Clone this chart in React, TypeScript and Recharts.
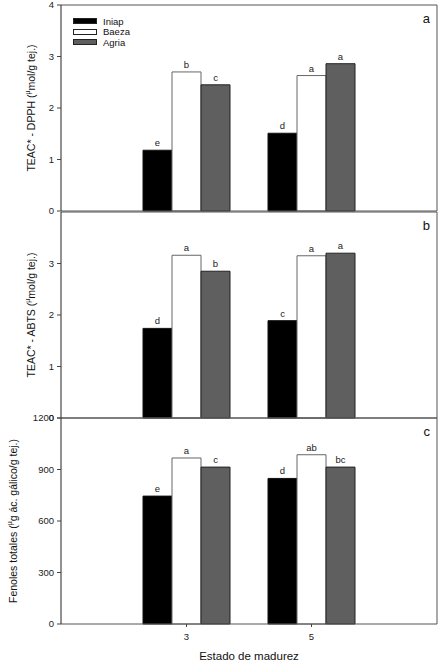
import { Bar, BarChart, LabelList, Legend, XAxis, YAxis } from "recharts";

const stages = ["3", "5"];
const cultivars = ["Iniap", "Baeza", "Agria"];
const cultivarFills = ["#000000", "#ffffff", "#5f5f5f"];
const cultivarStrokes = ["#111111", "#666666", "#222222"];

// panel a: TEAC DPPH
const dpphIniap = [1.18, 1.51];
const dpphBaeza = [2.7, 2.63];
const dpphAgria = [2.45, 2.86];
const dpphLetters = [["e", "d"], ["b", "a"], ["c", "a"]];

// panel b: TEAC ABTS
const abtsIniap = [1.74, 1.89];
const abtsBaeza = [3.16, 3.15];
const abtsAgria = [2.85, 3.2];
const abtsLetters = [["d", "c"], ["a", "a"], ["b", "a"]];

// panel c: fenoles totales
const fenIniap = [745, 848];
const fenBaeza = [967, 986];
const fenAgria = [914, 914];
const fenLetters = [["e", "d"], ["a", "ab"], ["c", "bc"]];

const teacTicks = [0, 1, 2, 3, 4];
const abtsTicks = [0, 1, 2, 3];
const fenTicks = [0, 300, 600, 900, 1200];

const font = "'Liberation Sans', Arial, sans-serif";

const buildRows = (series: number[][], letters: string[][]) =>
  stages.map((stage, i) => {
    const row: Record<string, string | number> = { stage };
    cultivars.forEach((c, k) => {
      row[c] = series[k][i];
      row[c + "Sig"] = letters[k][i];
    });
    return row;
  });

const dpphRows = buildRows([dpphIniap, dpphBaeza, dpphAgria], dpphLetters);
const abtsRows = buildRows([abtsIniap, abtsBaeza, abtsAgria], abtsLetters);
const fenRows = buildRows([fenIniap, fenBaeza, fenAgria], fenLetters);

const renderLegend = (props: any) => {
  const items = [...(props.payload || [])].sort(
    (p: any, q: any) => cultivars.indexOf(p.value) - cultivars.indexOf(q.value)
  );
  return (
    <div style={{ fontFamily: font, fontSize: 9.5, color: "#111" }}>
      {items.map((entry: any) => {
        const k = cultivars.indexOf(entry.value);
        return (
          <div key={entry.value} style={{ display: "flex", alignItems: "center", height: 10.5 }}>
            <span
              style={{
                display: "inline-block",
                width: 22,
                height: 4,
                background: cultivarFills[k],
                border: "1px solid #222",
                marginRight: 6,
              }}
            />
            {entry.value}
          </div>
        );
      })}
    </div>
  );
};

const yLabel = (main: string, unit: string, cx: number) => (props: any) => {
  const vb = props.viewBox;
  const cy = vb.y + vb.height / 2;
  return (
    <text
      x={cx}
      y={cy}
      transform={`rotate(-90 ${cx} ${cy})`}
      textAnchor="middle"
      dominantBaseline="central"
      fontSize={10.5}
      fontFamily={font}
      fill="#111"
    >
      {main} (
      <tspan fontSize={7} dy={-4}>
        µ
      </tspan>
      <tspan dy={4}>{unit})</tspan>
    </text>
  );
};

const panelTag = (tag: string) => (props: any) => {
  const vb = props.viewBox;
  return (
    <text x={vb.x + vb.width - 7} y={vb.y + 19} textAnchor="end" fontSize={13} fontFamily={font} fill="#111">
      {tag}
    </text>
  );
};

type PanelProps = {
  rows: Record<string, string | number>[];
  top: number;
  height: number;
  marginTop: number;
  marginBottom: number;
  domain: [number, number];
  ticks: number[];
  label: string;
  unit: string;
  labelX: number;
  tag: string;
  showStages?: boolean;
  showLegend?: boolean;
};

function Panel({
  rows,
  top,
  height,
  marginTop,
  marginBottom,
  domain,
  ticks,
  label,
  unit,
  labelX,
  tag,
  showStages,
  showLegend,
}: PanelProps) {
  return (
    <div style={{ position: "absolute", left: 0, top, width: 441, height }}>
      <BarChart
        width={441}
        height={height}
        data={rows}
        margin={{ top: marginTop - 1, right: 3, bottom: marginBottom, left: 1 }}
        barSize={29}
        barGap={0}
      >
        <XAxis
          dataKey="stage"
          height={showStages ? 39 : 1}
          padding={{ left: 63, right: 63 }}
          axisLine={{ stroke: "#555" }}
          tick={showStages ? { fontSize: 9.5, fill: "#222", fontFamily: font } : false}
          tickLine={showStages ? { stroke: "#444" } : false}
          tickSize={3}
          tickMargin={6}
          label={
            showStages
              ? { value: "Estado de madurez", position: "insideBottom", offset: 3, fontSize: 11.5, fill: "#111", fontFamily: font }
              : undefined
          }
        />
        <XAxis
          xAxisId="top"
          orientation="top"
          dataKey="stage"
          height={1}
          tick={false}
          tickLine={false}
          axisLine={{ stroke: "#555" }}
          label={{ content: panelTag(tag) }}
        />
        <YAxis
          width={60}
          domain={domain}
          ticks={ticks}
          interval={0}
          axisLine={{ stroke: "#222" }}
          tickLine={{ stroke: "#444" }}
          tickSize={4}
          tickMargin={3}
          tick={{ fontSize: 9.5, fill: "#222", fontFamily: font }}
          label={{ content: yLabel(label, unit, labelX) }}
        />
        <YAxis
          yAxisId="right"
          orientation="right"
          width={1}
          domain={domain}
          tick={false}
          tickLine={false}
          axisLine={{ stroke: "#555" }}
        />
        {showLegend && (
          <Legend
            layout="horizontal"
            verticalAlign="middle"
            align="center"
            content={renderLegend}
            wrapperStyle={{ left: 73, top: 16, width: 80 }}
          />
        )}
        {cultivars.map((c, k) => (
          <Bar
            key={c}
            dataKey={c}
            name={c}
            fill={cultivarFills[k]}
            stroke={cultivarStrokes[k]}
            strokeWidth={1}
            isAnimationActive={false}
          >
            <LabelList dataKey={c + "Sig"} position="top" offset={4} fontSize={9.5} fill="#222" fontFamily={font} />
          </Bar>
        ))}
      </BarChart>
    </div>
  );
}

export default function App() {
  return (
    <div style={{ position: "absolute", left: 0, top: 0, width: 441, height: 663, background: "#fff", fontFamily: font }}>
      <Panel
        rows={dpphRows}
        top={0}
        height={220}
        marginTop={5}
        marginBottom={8}
        domain={[0, 4]}
        ticks={teacTicks}
        label="TEAC* - DPPH"
        unit="mol/g tej."
        labelX={31}
        tag="a"
        showLegend
      />
      <Panel
        rows={abtsRows}
        top={200}
        height={226}
        marginTop={12}
        marginBottom={7}
        domain={[0, 4]}
        ticks={abtsTicks}
        label="TEAC* - ABTS"
        unit="mol/g tej."
        labelX={31}
        tag="b"
      />
      <Panel
        rows={fenRows}
        top={400}
        height={263}
        marginTop={18}
        marginBottom={0}
        domain={[0, 1200]}
        ticks={fenTicks}
        label="Fenoles totales"
        unit="g ác. gálico/g tej."
        labelX={13}
        tag="c"
        showStages
      />
    </div>
  );
}
